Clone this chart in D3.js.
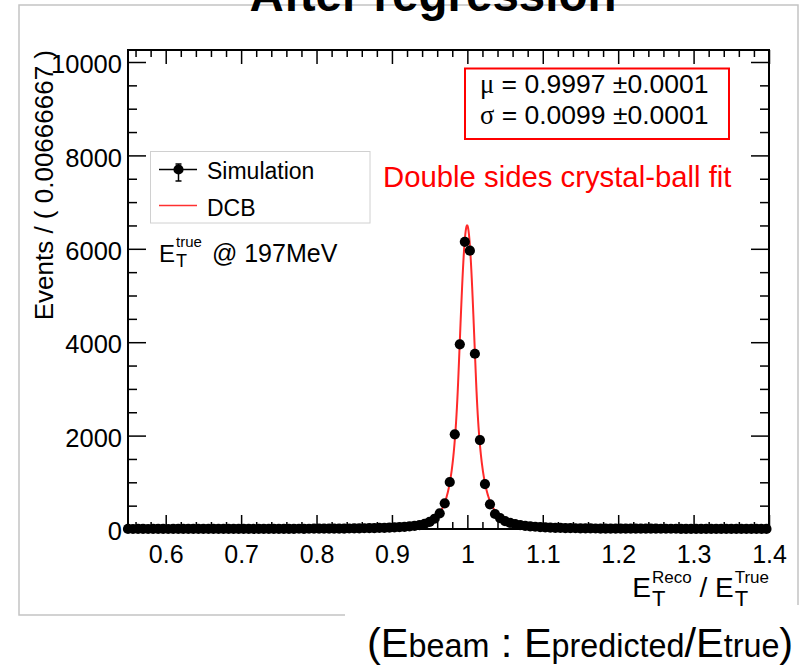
<!DOCTYPE html>
<html>
<head>
<meta charset="utf-8">
<script src="https://cdn.jsdelivr.net/npm/d3@7"></script>
<style>
  body { margin: 0; background: #fff; }
  svg { display: block; }
  text { font-family: "Liberation Sans", Arial, Helvetica, sans-serif; fill: #000; }
</style>
</head>
<body>
<svg id="chart" width="802" height="665"></svg>
<script>
// Histogram: 150 bins over [0.5, 1.5]; bins 7..134 lie inside the plotted x range
const binLow = 0.5;
const binWidth = 1 / 150;
const firstBin = 7;
const counts = [
  1, 0, 1, 1, 0, 1, 1, 1, 0, 1, 1, 1, 2, 1, 1, 2, 1, 2, 2, 1, 2, 2, 2, 3,
  2, 3, 3, 2, 3, 3, 4, 3, 4, 4, 5, 4, 5, 6, 6,
  7, 7, 8, 9, 10, 11, 12, 14, 16, 18, 20, 23,
  26, 30, 34, 40, 47, 56, 68, 85, 110, 152, 220,
  336, 550, 1006, 2027, 3954, 6150, 5960, 3753, 1905, 963, 528, 321,
  235, 170, 130, 103, 84, 68, 57, 48, 41, 35, 30, 26, 23, 20, 18, 16, 14, 13, 12, 11,
  10, 10, 9, 9, 8, 8, 7, 7, 7, 6, 6, 6, 5, 5, 5, 5, 4, 4, 4, 4, 4, 3, 3, 3, 3, 3, 3, 2, 3, 2, 2, 2, 2, 2
];

// Axis ticks
const xRange = [0.55, 1.4];
const yRange = [0, 10257];
const xTickValues = [0.6, 0.7, 0.8, 0.9, 1.0, 1.1, 1.2, 1.3, 1.4];
const xTickLabels = ["0.6", "0.7", "0.8", "0.9", "1", "1.1", "1.2", "1.3", "1.4"];
const yTickValues = [0, 2000, 4000, 6000, 8000, 10000];
const yTickLabels = ["0", "2000", "4000", "6000", "8000", "10000"];

// Double-sided crystal-ball fit result
const fitSymbols = ["\u03bc", "\u03c3"];
const fitValues = [0.9997, 0.0099];
const fitErrors = [0.0001, 0.0001];
const fitPeak = 6500;
const fitAlpha = [1.2, 1.2];   // left, right
const fitPower = [4, 3];       // left, right

const svg = d3.select("#chart");
const L = 128, R = 769, T = 50, B = 529;
const x = d3.scaleLinear().domain(xRange).range([L, R]);
const y = d3.scaleLinear().domain(yRange).range([B, T]);
const dotR = 5.1;

// Canvas outline
svg.append("path")
  .attr("d", "M345,615 H19 V5 H798 V605")
  .attr("fill", "none").attr("stroke", "#c4c4c4").attr("stroke-width", 1.5);

// Title (partly above the canvas)
svg.append("text")
  .attr("x", 433).attr("y", 11)
  .attr("text-anchor", "middle")
  .style("font-size", "47.5px").style("font-weight", "bold")
  .text("After regression");

// Axes: ticks point inward on all four sides
const minorX = d3.range(0.56, 1.401, 0.02).map(v => +v.toFixed(2)).filter(v => !xTickValues.some(t => Math.abs(t - v) < 1e-6));
const minorY = d3.range(0, 10001, 500).filter(v => v % 2000 !== 0);
const fmtX = (d, i) => xTickLabels[i];
const fmtY = (d, i) => yTickLabels[i];

function styleAxis(g) {
  g.select(".domain").remove();
  g.selectAll("line").attr("stroke", "#000").attr("stroke-width", 1.5);
}

const gb = svg.append("g").attr("transform", `translate(0,${B})`)
  .call(d3.axisBottom(x).tickValues(xTickValues).tickSize(-14).tickFormat(fmtX)).call(styleAxis);
gb.selectAll("text").attr("y", 16).attr("dy", "0.71em").style("font-size", "25px")
  .style("font-family", "'Liberation Sans', Arial, sans-serif").attr("fill", "#000");
svg.append("g").attr("transform", `translate(0,${B})`)
  .call(d3.axisBottom(x).tickValues(minorX).tickSize(-7).tickFormat("")).call(styleAxis);

svg.append("g").attr("transform", `translate(0,${T})`)
  .call(d3.axisTop(x).tickValues(xTickValues).tickSize(-14).tickFormat("")).call(styleAxis);
svg.append("g").attr("transform", `translate(0,${T})`)
  .call(d3.axisTop(x).tickValues(minorX).tickSize(-7).tickFormat("")).call(styleAxis);

const gl = svg.append("g").attr("transform", `translate(${L},0)`)
  .call(d3.axisLeft(y).tickValues(yTickValues).tickSize(-18).tickFormat(fmtY)).call(styleAxis);
gl.selectAll("text").attr("x", -6).attr("dy", "0.42em").style("font-size", "25.5px")
  .style("font-family", "'Liberation Sans', Arial, sans-serif").attr("fill", "#000");
svg.append("g").attr("transform", `translate(${L},0)`)
  .call(d3.axisLeft(y).tickValues(minorY).tickSize(-9).tickFormat("")).call(styleAxis);

svg.append("g").attr("transform", `translate(${R},0)`)
  .call(d3.axisRight(y).tickValues(yTickValues).tickSize(-18).tickFormat("")).call(styleAxis);
svg.append("g").attr("transform", `translate(${R},0)`)
  .call(d3.axisRight(y).tickValues(minorY).tickSize(-9).tickFormat("")).call(styleAxis);

// Frame
svg.append("rect")
  .attr("x", L).attr("y", T).attr("width", R - L).attr("height", B - T)
  .attr("fill", "none").attr("stroke", "#000").attr("stroke-width", 2);

// Y axis title
svg.append("text")
  .attr("transform", `translate(53,${T}) rotate(-90)`)
  .attr("text-anchor", "end")
  .style("font-size", "26px")
  .text("Events / ( 0.00666667 )");

// Helper: base symbol with stacked superscript and subscript
function subSup(parent, x0, base, o) {
  const g = parent.append("g");
  const b = g.append("text").attr("x", x0).attr("y", o.y).style("font-size", o.bs + "px").text(base);
  const bw = b.node().getComputedTextLength();
  const sp = g.append("text").attr("x", x0 + bw + 1).attr("y", o.y + o.supDy)
    .style("font-size", o.ss + "px").text(o.sup);
  const sb = g.append("text").attr("x", x0 + bw + 1).attr("y", o.y + o.subDy)
    .style("font-size", o.ds + "px").text(o.sub);
  return bw + 1 + Math.max(sp.node().getComputedTextLength(), sb.node().getComputedTextLength());
}

// X axis title, right-aligned to the frame
const xt = svg.append("g");
let cx = 0;
const xOpt = { y: 597, bs: 28, ss: 17, supDy: -14, ds: 22, subDy: 9 };
cx += subSup(xt, cx, "E", Object.assign({ sup: "Reco", sub: "T" }, xOpt));
const slash = xt.append("text").attr("x", cx).attr("y", 597).style("font-size", "28px").text("\u00a0/\u00a0");
cx += slash.node().getComputedTextLength();
cx += subSup(xt, cx, "E", Object.assign({ sup: "True", sub: "T" }, xOpt));
xt.attr("transform", `translate(${R - cx},0)`);

// Fit curve (drawn beneath the data points)
function dcb(xv) {
  const t = (xv - fitValues[0]) / fitValues[1];
  const aL = fitAlpha[0], nL = fitPower[0], aR = fitAlpha[1], nR = fitPower[1];
  if (t < -aL) {
    const A = Math.pow(nL / aL, nL) * Math.exp(-aL * aL / 2), Bv = nL / aL - aL;
    return A * Math.pow(Bv - t, -nL);
  }
  if (t > aR) {
    const A = Math.pow(nR / aR, nR) * Math.exp(-aR * aR / 2), Bv = nR / aR - aR;
    return A * Math.pow(Bv + t, -nR);
  }
  return Math.exp(-t * t / 2);
}
const curveX = d3.range(0, 1601).map(i => xRange[0] + (xRange[1] - xRange[0]) * i / 1600);
svg.append("path")
  .datum(curveX)
  .attr("fill", "none").attr("stroke", "#ff2a2a").attr("stroke-width", 2)
  .attr("d", d3.line().x(d => x(d)).y(d => y(fitPeak * dcb(d))));

// Data points
const points = counts.map((c, i) => ({ x: binLow + (firstBin + i + 0.5) * binWidth, v: c }));
svg.append("g").selectAll("circle").data(points).join("circle")
  .attr("cx", d => x(d.x)).attr("cy", d => y(d.v)).attr("r", dotR).attr("fill", "#000");

// Legend
const lg = svg.append("g");
lg.append("rect").attr("x", 150.5).attr("y", 151.5).attr("width", 219.5).attr("height", 71.5)
  .attr("fill", "#fff").attr("stroke", "#d0d0d0").attr("stroke-width", 1);
lg.append("line").attr("x1", 159).attr("x2", 197).attr("y1", 169.5).attr("y2", 169.5).attr("stroke", "#000").attr("stroke-width", 1.5);
lg.append("line").attr("x1", 178.5).attr("x2", 178.5).attr("y1", 164).attr("y2", 181).attr("stroke", "#000").attr("stroke-width", 1.5);
lg.append("line").attr("x1", 175.5).attr("x2", 181.5).attr("y1", 164).attr("y2", 164).attr("stroke", "#000").attr("stroke-width", 1.5);
lg.append("line").attr("x1", 175.5).attr("x2", 181.5).attr("y1", 181).attr("y2", 181).attr("stroke", "#000").attr("stroke-width", 1.5);
lg.append("circle").attr("cx", 178.5).attr("cy", 169.5).attr("r", dotR).attr("fill", "#000");
lg.append("text").attr("x", 207).attr("y", 179).style("font-size", "23px").text("Simulation");
lg.append("line").attr("x1", 159).attr("x2", 197).attr("y1", 205.5).attr("y2", 205.5).attr("stroke", "#ff3030").attr("stroke-width", 1.5);
lg.append("text").attr("x", 207).attr("y", 216).style("font-size", "23px").text("DCB");

// Beam energy label
const bl = svg.append("g");
const bw = subSup(bl, 159, "E", { y: 262, bs: 24, sup: "true", ss: 15, supDy: -15, sub: "T", ds: 18, subDy: 5 });
bl.append("text").attr("x", 159 + bw + 10).attr("y", 262).style("font-size", "25px").text("@ 197MeV");

// Fit result box
svg.append("rect").attr("x", 465).attr("y", 68.5).attr("width", 264).attr("height", 70.5)
  .attr("fill", "#fff").attr("stroke", "#ff0000").attr("stroke-width", 2);
fitSymbols.forEach((s, i) => {
  const t = svg.append("text").attr("x", 480).attr("y", 92.5 + i * 31).style("font-size", "26.5px");
  t.append("tspan").style("font-family", "'Liberation Serif', 'DejaVu Serif', serif").text(s);
  t.append("tspan").text(" = " + fitValues[i].toFixed(4) + " ");
  t.append("tspan").text("\u00b1");
  t.append("tspan").text(fitErrors[i].toFixed(4));
});

svg.append("text").attr("x", 383).attr("y", 187).style("font-size", "29.3px")
  .style("fill", "#ff0000").text("Double sides crystal-ball fit");

// Caption below the canvas
const cap = svg.append("text").attr("x", 367).attr("y", 657);
[["(", 41.5], ["E", 41.5], ["beam", 32.3], [" : ", 41.5], ["E", 41.5], ["predicted", 32.3], ["/", 41.5], ["E", 41.5], ["true", 32.3], [")", 41.5]]
  .forEach(([s, f]) => cap.append("tspan").style("font-size", f + "px").text(s));
</script>
</body>
</html>
